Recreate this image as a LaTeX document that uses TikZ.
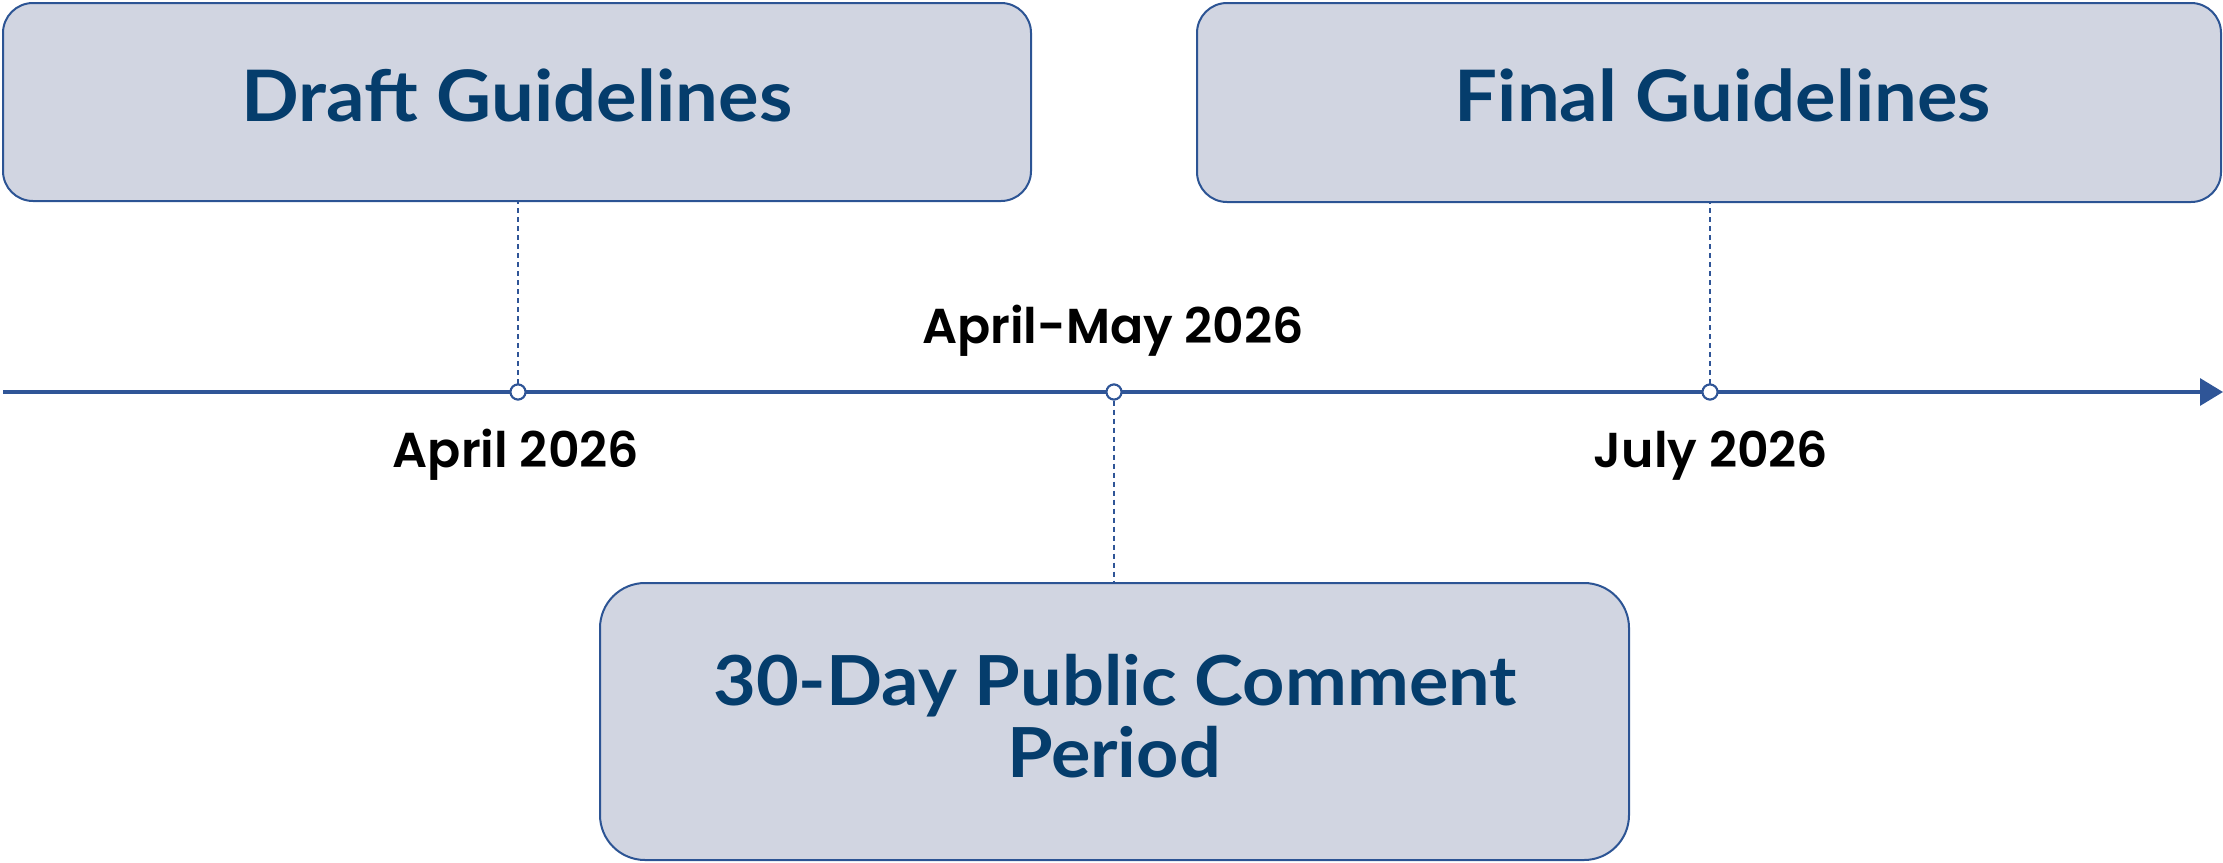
\documentclass[tikz,border=0pt]{standalone}
\usepackage{fontspec}
\setmainfont{Lato}[UprightFont=* Bold]
\newfontfamily\titlefont{Lato}[UprightFont=* Bold, FakeStretch=1.07]
\newfontfamily\datefont{Poppins}[UprightFont=* SemiBold]
\usetikzlibrary{arrows.meta}
\definecolor{boxfill}{HTML}{D1D5E1}
\definecolor{boxline}{HTML}{2C5494}
\definecolor{titleblue}{HTML}{053D6C}
\definecolor{axisblue}{HTML}{2F5597}
\tikzset{
  phasebox/.style={draw=boxline, line width=2pt, fill=boxfill, rounded corners=30pt, inner sep=0pt},
  phasetitle/.style={text=titleblue, font=\titlefont\fontsize{71}{80}\selectfont, anchor=base, inner sep=0pt},
  datelabel/.style={text=black, font=\datefont\fontsize{49}{56}\selectfont, anchor=base, inner sep=0pt},
  milestone/.style={circle, draw=axisblue, line width=2pt, fill=white, minimum size=15pt, inner sep=0pt},
  leader/.style={draw=axisblue, line width=1.3pt, dash pattern=on 5pt off 4pt},
}
\begin{document}
\begin{tikzpicture}[x=1pt, y=-1pt]
\useasboundingbox (0,0) rectangle (2223,862);

% phase boxes
\node[phasebox, minimum width=1028pt, minimum height=198pt] (draft) at (517,102) {};
\node[phasebox, minimum width=1024pt, minimum height=199pt] (final) at (1709,102.5) {};
\node[phasebox, rounded corners=45pt, minimum width=1029pt, minimum height=277pt] (comment) at (1114.5,721.5) {};

\node[phasetitle] (draftT) at (517,121) {Draft Guidelines};
\node[phasetitle] (finalT) at (1723,121) {Final Guidelines};
\node[phasetitle, font=\titlefont\fontsize{69}{72}\selectfont] (commentA) at (1115,705) {30-Day Public Comment};
\node[phasetitle, font=\titlefont\fontsize{69}{72}\selectfont] (commentB) at (1114,777) {Period};

% time axis
\coordinate (axisL) at (3,392);
\coordinate (axisR) at (2223,392);
\draw[draw=axisblue, line width=3.2pt, -{Triangle[length=23pt, width=27pt]}] (axisL) -- (axisR);

% leader lines from boxes to milestones
\node[milestone] (m1) at (518,392) {};
\node[milestone] (m2) at (1114,392) {};
\node[milestone] (m3) at (1710,392) {};
\draw[leader] (m1) -- (m1 |- draft.south);
\draw[leader] (m3) -- (m3 |- final.south);
\draw[leader] (m2) -- (m2 |- comment.north);
\node[milestone] at (m1) {};
\node[milestone] at (m2) {};
\node[milestone] at (m3) {};

% dates
\node[datelabel] (d1) at (516,467) {April 2026};
\node[datelabel] (d2) at (1113,343) {April-May 2026};
\node[datelabel] (d3) at (1711,467) {July 2026};
\end{tikzpicture}
\end{document}
